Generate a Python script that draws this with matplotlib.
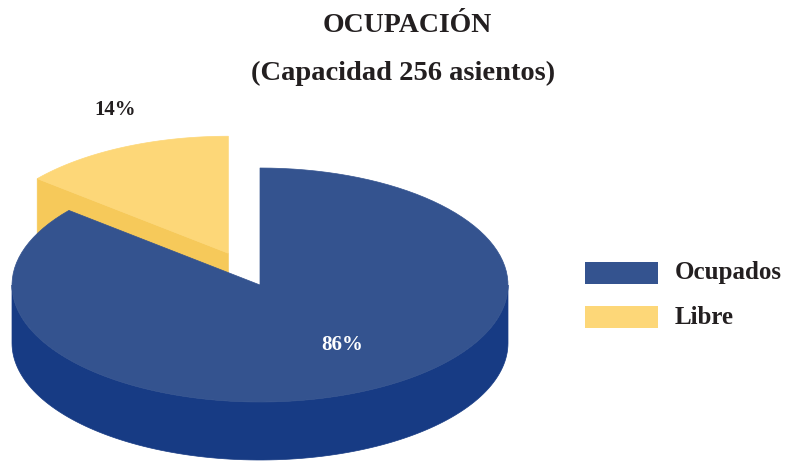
import numpy as np
import matplotlib
matplotlib.use('Agg')
import matplotlib.pyplot as plt
from matplotlib.patches import Polygon, Rectangle

# ---- data ----
labels = ['Ocupados', 'Libre']
values = [86, 14]
pct_labels = ['86%', '14%']
title = 'OCUPACIÓN'
subtitle = '(Capacidad 256 asientos)'

# ---- style ----
top_colors = ['#34538f', '#fdd778']
side_colors = ['#173b84', '#f6c95a']
explode = [0.0, 0.30]
SERIF = ['Liberation Serif', 'DejaVu Serif']

W, H = 791, 463
fig = plt.figure(figsize=(W / 100, H / 100), dpi=100)
ax = fig.add_axes([0, 0, 1, 1])
ax.set_xlim(0, W)
ax.set_ylim(H, 0)
ax.axis('off')

cx, cy = 260, 285       # centre of pie top (pixels)
rx, ry = 248, 117       # ellipse radii
depth = 58              # thickness
start = 90

fracs = np.array(values, dtype=float) / sum(values)
cum = np.concatenate([[0], np.cumsum(fracs)])

def pt(theta_deg, ccx, ccy, z=0.0):
    t = np.radians(theta_deg)
    return ccx + rx * np.cos(t), ccy - ry * np.sin(t) + z

def arc(a, b, ccx, ccy, z=0.0, n=120):
    th = np.linspace(a, b, n)
    xs, ys = pt(th, ccx, ccy, z)
    return list(zip(xs, ys))

def draw_slice(i, zorder):
    # clockwise from start: convert to ccw range [lo, hi]
    hi = start - cum[i] * 360
    lo = start - cum[i + 1] * 360
    while lo < 0:
        lo += 360
        hi += 360
    mid = np.radians((lo + hi) / 2)
    ccx = cx + explode[i] * rx * np.cos(mid)
    ccy = cy - explode[i] * ry * np.sin(mid)
    polys = []
    # outer front side: intersect [lo,hi] with [180,360] and [540,720]
    for f0, f1 in [(180, 360), (540, 720)]:
        a, b = max(lo, f0), min(hi, f1)
        if b > a:
            verts = arc(a, b, ccx, ccy) + arc(b, a, ccx, ccy, depth)
            polys.append(verts)
    # radial faces
    for ang, nd in [(lo, lo - 90), (hi, hi + 90)]:
        if np.sin(np.radians(nd)) < -1e-6:
            ex, ey = pt(ang, ccx, ccy)
            polys.append([(ccx, ccy), (ex, ey), (ex, ey + depth), (ccx, ccy + depth)])
    for verts in polys:
        ax.add_patch(Polygon(verts, closed=True, facecolor=side_colors[i],
                             edgecolor=side_colors[i], lw=0.5, zorder=zorder))
    top = [(ccx, ccy)] + arc(lo, hi, ccx, ccy)
    ax.add_patch(Polygon(top, closed=True, facecolor=top_colors[i],
                         edgecolor=top_colors[i], lw=0.5, zorder=zorder + 1))

# back (exploded) slice first, then the main slice
draw_slice(1, 2)
draw_slice(0, 4)

# percentage labels
ax.text(342, 345, pct_labels[0], color='white', fontsize=15, fontweight='bold',
        family=SERIF, ha='center', va='center', zorder=10)
ax.text(115, 110, pct_labels[1], color='#231f20', fontsize=15, fontweight='bold',
        family=SERIF, ha='center', va='center', zorder=10)

# titles
ax.text(407, 26, title, color='#231f20', fontsize=20, fontweight='bold',
        family=SERIF, ha='center', va='center')
ax.text(403, 73, subtitle, color='#231f20', fontsize=20.5, fontweight='bold',
        family=SERIF, ha='center', va='center')

# legend
leg_y = [273, 317]
for i, lab in enumerate(labels):
    ax.add_patch(Rectangle((585, leg_y[i] - 11), 73, 22, facecolor=top_colors[i],
                           edgecolor='none'))
    ax.text(675, leg_y[i], lab, color='#231f20', fontsize=18, fontweight='bold',
            family=SERIF, ha='left', va='center')

fig.savefig('out.png', dpi=100)
